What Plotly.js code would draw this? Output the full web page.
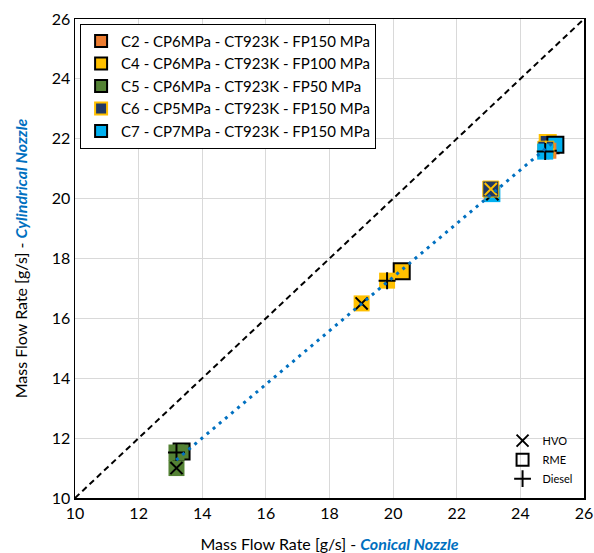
<!DOCTYPE html>
<html>
<head>
<meta charset="utf-8">
<script src="https://cdn.plot.ly/plotly-3.0.1.min.js"></script>
<style>html,body{margin:0;padding:0;background:#fff}#chart{width:594px;height:553px}</style>
</head>
<body>
<div id="chart"></div>
<script>
// ---- Data ----
const configNames = [
  'C2 - CP6MPa - CT923K - FP150 MPa',
  'C4 - CP6MPa - CT923K - FP100 MPa',
  'C5 - CP6MPa - CT923K - FP50 MPa',
  'C6 - CP5MPa - CT923K - FP150 MPa',
  'C7 - CP7MPa - CT923K - FP150 MPa'
];
const fuels = ['HVO', 'RME', 'Diesel'];
// x = conical nozzle, y = cylindrical nozzle, order HVO, RME, Diesel
const c2X = [23.10, 24.95, 24.88];
const c2Y = [20.20, 21.78, 21.60];
const c4X = [19.01, 20.27, 19.81];
const c4Y = [16.50, 17.57, 17.26];
const c5X = [13.19, 13.35, 13.19];
const c5Y = [11.00, 11.55, 11.52];
const c6X = [23.07, 24.86, 24.80];
const c6Y = [20.32, 21.86, 21.65];
const c7X = [23.12, 25.10, 24.78];
const c7Y = [20.15, 21.80, 21.57];
const trendX = [13.18, 25.05];
const trendY = [11.27, 21.90];
const diagX = [10, 26];
const diagY = [10, 26];

// ---- Styles ----
const fillColors = ['#ED7D31', '#FFC000', '#548235', '#203864', '#00B0F0'];
const edgeColors = ['#000000', '#000000', '#000000', '#FFC000', '#000000'];
const xs = [c2X, c4X, c5X, c6X, c7X];
const ys = [c2Y, c4Y, c5Y, c6Y, c7Y];
const SZ = 16;
const overlaySym = {HVO: 'x-thin-open', Diesel: 'cross-thin-open'};
// drawing order of configurations for each fuel
const drawOrder = {HVO: [0, 1, 2, 4, 3], RME: [0, 1, 2, 3, 4], Diesel: [0, 1, 2, 3, 4]};

const traces = [];
traces.push({x: diagX, y: diagY, mode: 'lines', line: {color: '#000', width: 2, dash: '6px,4px'}, showlegend: false, hoverinfo: 'skip'});

// legend entries (config order), using RME style
for (let c = 0; c < configNames.length; c++) {
  traces.push({x: [null], y: [null], mode: 'markers', name: configNames[c], legend: 'legend',
    marker: {symbol: 'square', size: SZ, color: fillColors[c], line: {color: edgeColors[c], width: 2}}});
}

for (let f = 0; f < fuels.length; f++) {
  const fuel = fuels[f];
  const isRME = fuel === 'RME';
  for (const c of drawOrder[fuel]) {
    traces.push({
      x: [xs[c][f]], y: [ys[c][f]], mode: 'markers', showlegend: false,
      marker: {symbol: 'square', size: SZ, color: fillColors[c],
               line: {color: isRME ? edgeColors[c] : (c === 3 ? edgeColors[c] : fillColors[c]), width: isRME ? 2 : (c === 3 ? 1 : 0)}}
    });
    if (!isRME) {
      traces.push({
        x: [xs[c][f]], y: [ys[c][f]], mode: 'markers', showlegend: false,
        marker: {symbol: overlaySym[fuel], size: (SZ + 1) / 1.4, color: edgeColors[c],
                 line: {color: edgeColors[c], width: 2}}
      });
    }
  }
}

traces.push({x: trendX, y: trendY, mode: 'lines', line: {color: '#0070C0', width: 3, dash: '3px,5px'}, showlegend: false, hoverinfo: 'skip'});

// fuel symbol key
const keySym = ['x-thin-open', 'square-open', 'cross-thin-open'];
for (let f = 0; f < fuels.length; f++) {
  traces.push({x: [null], y: [null], mode: 'markers', name: fuels[f], legend: 'legend2',
    marker: {symbol: keySym[f], size: 12, color: '#000', line: {color: '#000', width: 2}}});
}

const font = 'Lato, "Open Sans", sans-serif';
const layout = {
  width: 594, height: 553,
  margin: {l: 75, r: 10, t: 19, b: 55, autoexpand: false},
  paper_bgcolor: '#fff', plot_bgcolor: '#fff',
  font: {family: font, size: 16, color: '#000'},
  xaxis: {range: [10, 26], dtick: 2, tick0: 10, showgrid: true, gridcolor: '#d9d9d9', gridwidth: 1,
          zeroline: false, showline: true, linecolor: '#000', linewidth: 1.5, mirror: true, ticks: '',
          tickfont: {size: 16}, fixedrange: true, automargin: false,
          title: {text: 'Mass Flow Rate [g/s] - <b><i><span style="color:#0070C0">Conical Nozzle</span></i></b>', font: {size: 16}, standoff: 18}},
  yaxis: {range: [10, 26], dtick: 2, tick0: 10, showgrid: true, gridcolor: '#d9d9d9', gridwidth: 1,
          zeroline: false, showline: true, linecolor: '#000', linewidth: 1.5, mirror: true, ticks: '',
          tickfont: {size: 16}, fixedrange: true, automargin: false,
          title: {text: 'Mass Flow Rate [g/s] - <b><i><span style="color:#0070C0">Cylindrical Nozzle</span></i></b>', font: {size: 16}, standoff: 20}},
  legend: {x: 0.01, y: 0.99, xanchor: 'left', yanchor: 'top', bgcolor: '#fff', bordercolor: '#000', borderwidth: 1,
           font: {size: 15}, itemsizing: 'constant', tracegroupgap: 0},
  legend2: {x: 0.84, y: 0.15, xanchor: 'left', yanchor: 'top', bgcolor: 'rgba(0,0,0,0)', borderwidth: 0,
           font: {size: 11}, itemsizing: 'constant', tracegroupgap: 0},
  showlegend: true
};

Plotly.newPlot('chart', traces, layout, {displayModeBar: false, staticPlot: true});
</script>
</body>
</html>
